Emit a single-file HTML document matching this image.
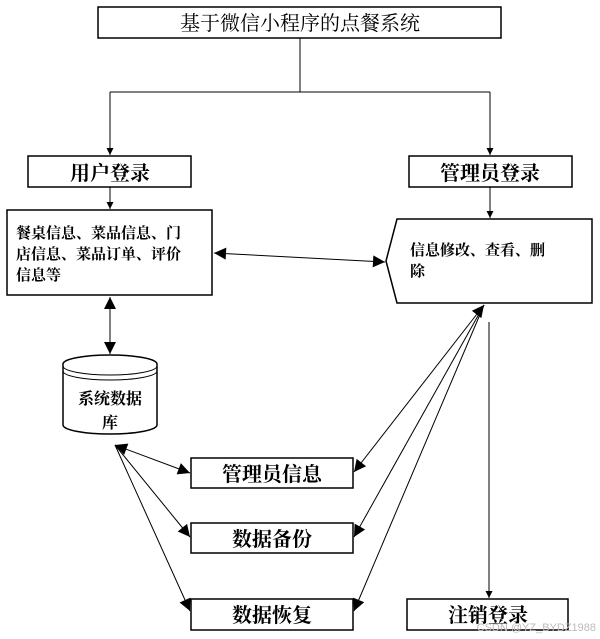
<!DOCTYPE html>
<html><head><meta charset="utf-8"><style>
html,body{margin:0;padding:0;background:#fff;}
svg{display:block;}
text{font-family:"Liberation Serif","Noto Serif CJK SC",serif;fill:#000;}
.b{font-family:"Liberation Serif","Noto Serif CJK SC",serif;font-weight:bold;}
</style></head><body>
<svg width="600" height="639" viewBox="0 0 600 639" xmlns="http://www.w3.org/2000/svg">
<defs>
<marker id="a" viewBox="0 0 10 10" refX="10" refY="5" markerWidth="7" markerHeight="7" orient="auto-start-reverse" markerUnits="userSpaceOnUse"><path d="M0,0 L10,5 L0,10 z" fill="#000"/></marker>
<marker id="A" viewBox="0 0 10 10" refX="10" refY="5" markerWidth="16" markerHeight="12" orient="auto-start-reverse" markerUnits="userSpaceOnUse"><path d="M0,0 L10,5 L0,10 z" fill="#000"/></marker>
</defs>
<g fill="#fff" stroke="#000" stroke-width="1.5">
<rect x="98" y="7" width="403" height="31"/>
<rect x="28" y="156" width="163" height="31"/>
<rect x="409" y="156" width="163" height="31"/>
<rect x="7" y="210" width="205" height="85"/>
<path d="M397,219 L592,219 L592,303 L397,303 L386,261 Z"/>
<rect x="191" y="458" width="162" height="30"/>
<rect x="191" y="523" width="162" height="30"/>
<rect x="191" y="599" width="162" height="31"/>
<rect x="407" y="599" width="161" height="31"/>
<path d="M63,364 A47,9 0 0 1 157,364 L157,425 A47,9 0 0 1 63,425 Z"/>
</g>
<g fill="none" stroke="#000" stroke-width="1">
<path d="M63,366 A47,9 0 0 0 157,366 M63,371 A47,9 0 0 0 157,371"/>
<path d="M300,38 V92 M110,92 H490"/>
<path d="M110,92 V155" marker-end="url(#a)"/>
<path d="M490,92 V155" marker-end="url(#a)"/>
<path d="M110,187 V209" marker-end="url(#a)"/>
<path d="M490,187 V218" marker-end="url(#a)"/>
<path d="M214,253 L385,262" marker-start="url(#A)" marker-end="url(#A)"/>
<path d="M110,297 V354" marker-start="url(#A)" marker-end="url(#A)"/>
<path d="M115,445 L190,473" marker-start="url(#A)" marker-end="url(#A)"/>
<path d="M115,445 L190,537" marker-end="url(#A)"/>
<path d="M115,445 L190,611" marker-end="url(#A)"/>
<path d="M484,305 L354,472" marker-start="url(#A)" marker-end="url(#A)"/>
<path d="M484,305 L354,537" marker-end="url(#A)"/>
<path d="M484,305 L354,611" marker-end="url(#A)"/>
<path d="M489,322 V598" marker-end="url(#a)"/>
</g>
<text x="300" y="30" font-size="20" text-anchor="middle">基于微信小程序的点餐系统</text>
<text x="110" y="180" font-size="20" text-anchor="middle" class="b">用户登录</text>
<text x="490" y="180" font-size="20" text-anchor="middle" class="b">管理员登录</text>
<text x="16" y="238" font-size="15" class="b">餐桌信息、菜品信息、门</text>
<text x="16" y="259" font-size="15" class="b">店信息、菜品订单、评价</text>
<text x="16" y="280" font-size="15" class="b">信息等</text>
<text x="410" y="255" font-size="15" class="b">信息修改、查看、删</text>
<text x="410" y="276" font-size="15" class="b">除</text>
<text x="110" y="404" font-size="16" text-anchor="middle" class="b">系统数据</text>
<text x="110" y="428" font-size="16" text-anchor="middle" class="b">库</text>
<text x="272" y="481" font-size="20" text-anchor="middle" class="b">管理员信息</text>
<text x="272" y="546" font-size="20" text-anchor="middle" class="b">数据备份</text>
<text x="272" y="622" font-size="20" text-anchor="middle" class="b">数据恢复</text>
<text x="488" y="622" font-size="20" text-anchor="middle" class="b">注销登录</text>
<text x="596" y="631" font-size="11" text-anchor="end" style="fill:#bbb;font-family:'Liberation Sans',sans-serif">CSDN @YZ_BYDZ1988</text>
</svg>
</body></html>
